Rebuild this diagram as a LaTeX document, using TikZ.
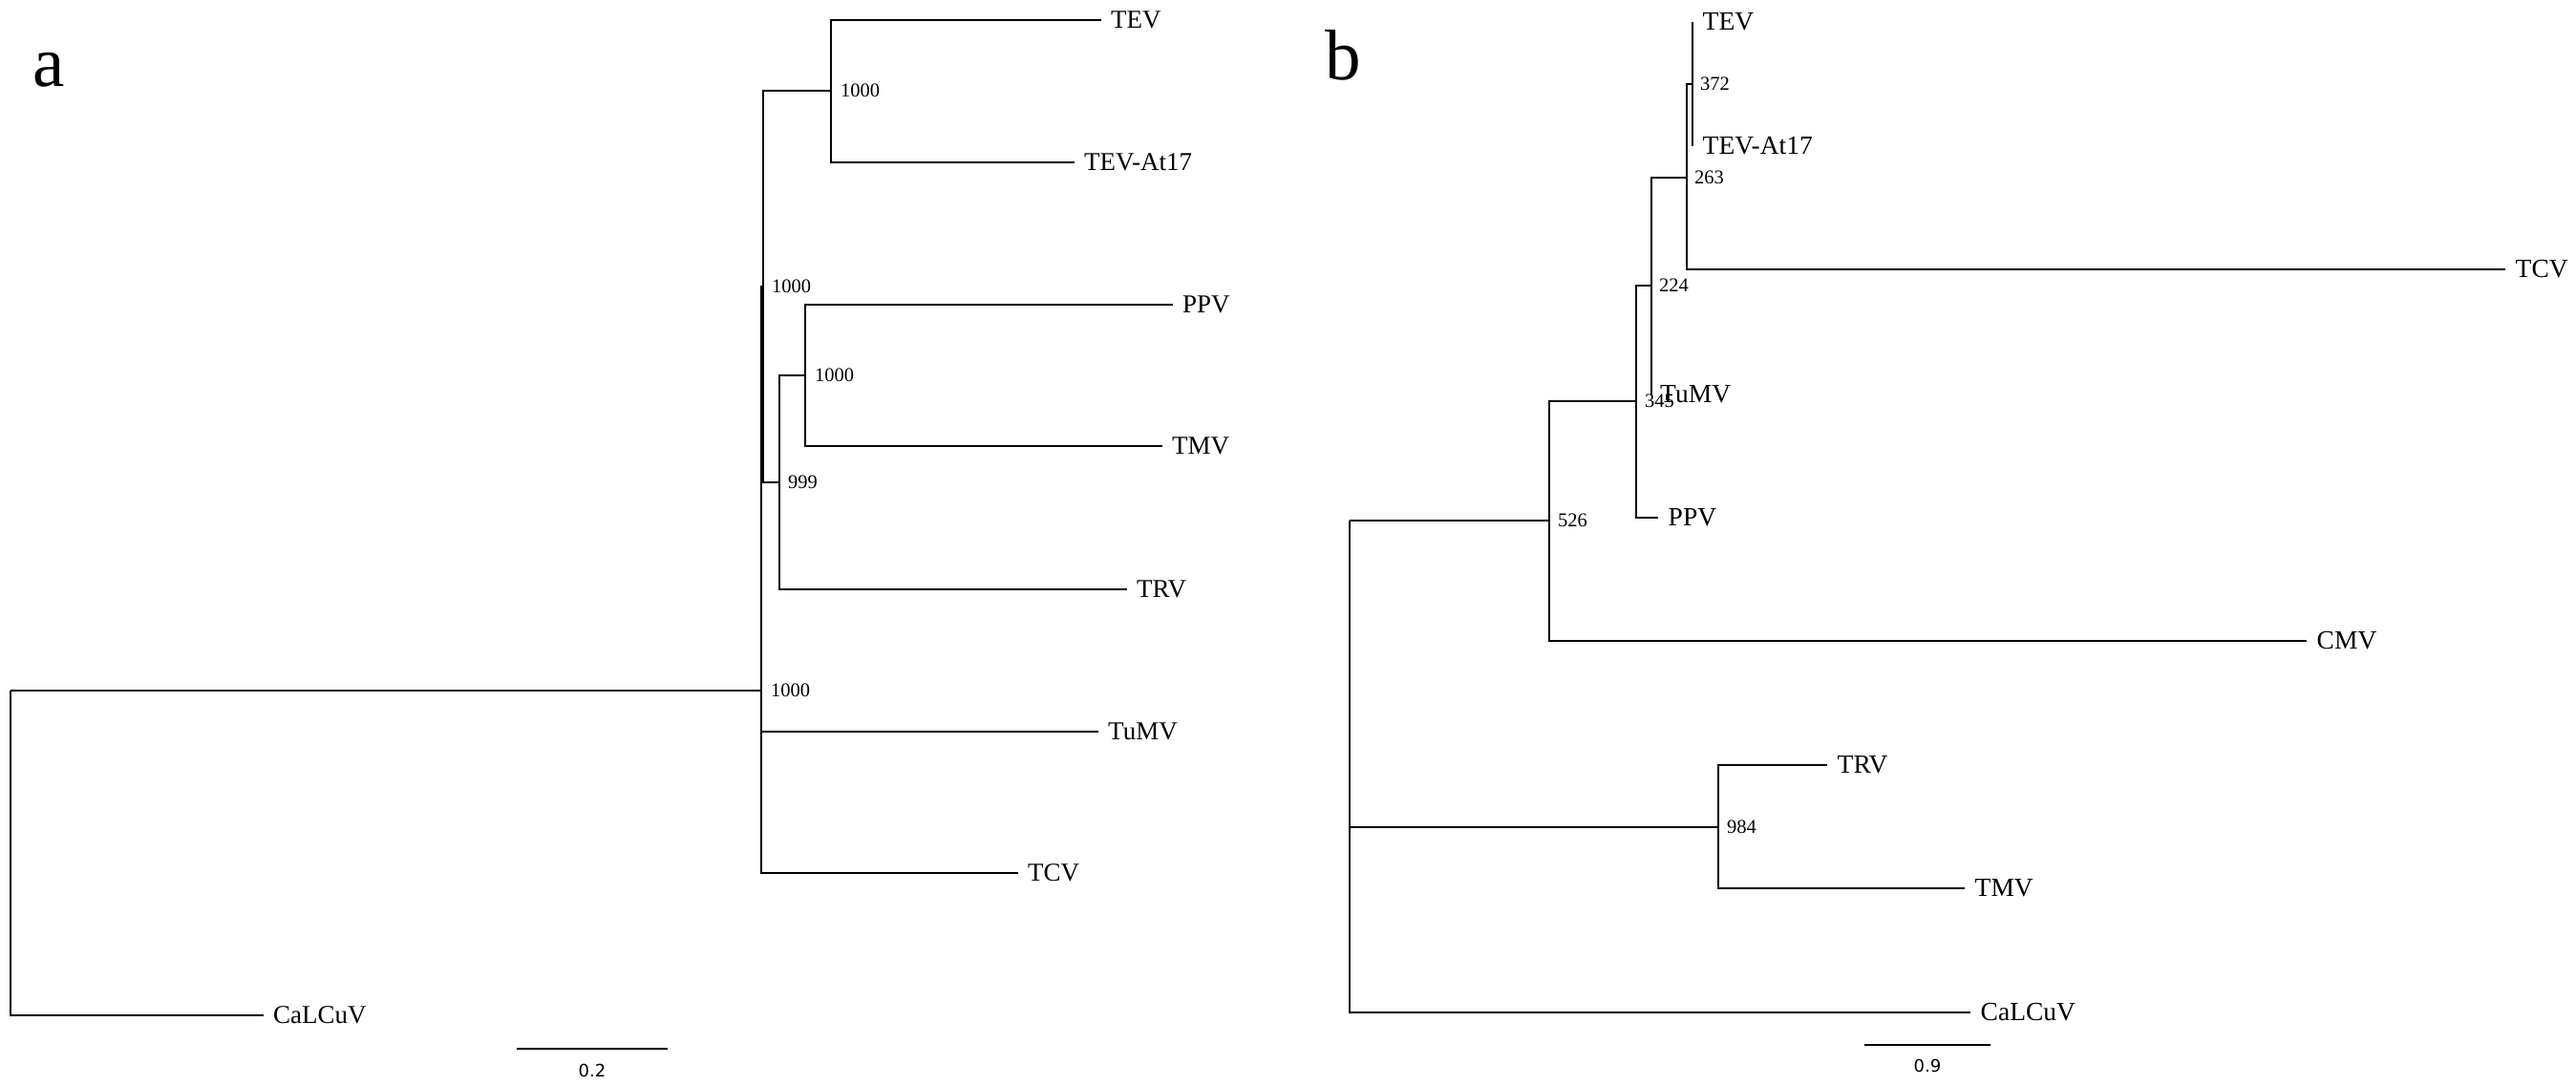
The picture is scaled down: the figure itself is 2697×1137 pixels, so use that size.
\documentclass[tikz,border=0pt]{standalone}
\usepackage{fontspec}
\setmainfont{Liberation Serif}
\newfontfamily\scalefnt{DejaVu Sans}
\begin{document}
\begin{tikzpicture}[x=1pt,y=-1pt,
  br/.style={line width=1.7pt, line join=miter},
  leaf/.style={anchor=west, inner xsep=10pt, inner ysep=0pt, font=\fontsize{27}{30}\selectfont},
  leafb/.style={leaf, inner xsep=10.5pt, font=\fontsize{27.5}{30}\selectfont},
  boot/.style={anchor=west, inner sep=0pt, font=\fontsize{20.5}{22}\selectfont},
  scl/.style={inner sep=0pt, font=\scalefnt\fontsize{18}{20}\selectfont},
  panel/.style={anchor=base west, inner sep=0pt, font=\fontsize{75}{80}\selectfont}]
\useasboundingbox (0,0) rectangle (2697,1137);
\fill[white] (0,0) rectangle (2697,1137);

% ---------------- panel a ----------------
\node[panel] (la) at (34,91) {a};
\coordinate (aR) at (11,723);
\coordinate (aN1) at (797,723);
\coordinate (aN2) at (799,300);
\coordinate (aTEVc) at (870,95);
\coordinate (a999) at (816,505);
\coordinate (aPPVc) at (843,393);
\node[leaf] (aTEV) at (1153,21) {TEV};
\node[leaf] (aTEVAt) at (1125,170) {TEV-At17};
\node[leaf] (aPPV) at (1228,319) {PPV};
\node[leaf] (aTMV) at (1217,467) {TMV};
\node[leaf] (aTRV) at (1180,617) {TRV};
\node[leaf] (aTuMV) at (1150,766) {TuMV};
\node[leaf] (aTCV) at (1066,914) {TCV};
\node[leaf] (aCaL) at (276,1063) {CaLCuV};

\draw[br] (aR) -- (aN1);
\draw[br] (aR) |- (aCaL.west);
\draw[br] (aN1) |- (aN2);
\draw[br] (aN1) |- (aTuMV.west);
\draw[br] (aN1) |- (aTCV.west);
\draw[br] (aN2) |- (aTEVc);
\draw[br] (aN2) |- (a999);
\draw[br] (aTEVc) |- (aTEV.west);
\draw[br] (aTEVc) |- (aTEVAt.west);
\draw[br] (a999) |- (aPPVc);
\draw[br] (a999) |- (aTRV.west);
\draw[br] (aPPVc) |- (aPPV.west);
\draw[br] (aPPVc) |- (aTMV.west);

\node[boot] (baTEV) at ([xshift=10pt]aTEVc) {1000};
\node[boot] (baN2) at ([xshift=9pt]aN2) {1000};
\node[boot] (baPPV) at ([xshift=10pt]aPPVc) {1000};
\node[boot] (ba999) at ([xshift=9pt]a999) {999};
\node[boot] (baN1) at ([xshift=10pt]aN1) {1000};

\coordinate (asb1) at (541,1098);
\coordinate (asb2) at (699,1098);
\draw[br] (asb1) -- (asb2);
\node[scl] (asl) at (620,1121) {0.2};

% ---------------- panel b ----------------
\node[panel] (lb) at (1387,84) {b};
\coordinate (bR) at (1413,545);
\coordinate (b526) at (1622,545);
\coordinate (b345) at (1713,420);
\coordinate (b224) at (1729,299);
\coordinate (b263) at (1766,186);
\coordinate (b372) at (1772,88);
\coordinate (b984) at (1799,866);
\node[leafb] (bTEV) at (1772,23) {TEV};
\node[leafb] (bTEVAt) at (1772,153) {TEV-At17};
\node[leafb, inner xsep=9pt] (bTuMV) at (1729,413) {TuMV};
\node[leafb] (bTCV) at (2623,282) {TCV};
\node[leafb] (bPPV) at (1736,542) {PPV};
\node[leafb] (bCMV) at (2415,671) {CMV};
\node[leafb] (bTRV) at (1913,801) {TRV};
\node[leafb] (bTMV) at (2057,930) {TMV};
\node[leafb] (bCaL) at (2063,1060) {CaLCuV};

\draw[br] (bR) -- (b526);
\draw[br] (bR) |- (b984);
\draw[br] (bR) |- (bCaL.west);
\draw[br] (b526) |- (b345);
\draw[br] (b526) |- (bCMV.west);
\draw[br] (b345) |- (b224);
\draw[br] (b345) |- (bPPV.west);
\draw[br] (b224) |- (b263);
\draw[br] (b224) |- (bTuMV.west);
\draw[br] (b263) |- (b372);
\draw[br] (b263) |- (bTCV.west);
\draw[br] (b372) |- (bTEV.west);
\draw[br] (b372) |- (bTEVAt.west);
\draw[br] (b984) |- (bTRV.west);
\draw[br] (b984) |- (bTMV.west);

\node[boot] (bb372) at ([xshift=8pt]b372) {372};
\node[boot] (bb263) at ([xshift=8pt]b263) {263};
\node[boot] (bb224) at ([xshift=8pt]b224) {224};
\node[boot] (bb345) at ([xshift=9pt]b345) {345};
\node[boot] (bb526) at ([xshift=9pt]b526) {526};
\node[boot] (bb984) at ([xshift=9pt]b984) {984};

\coordinate (bsb1) at (1952,1094);
\coordinate (bsb2) at (2084,1094);
\draw[br] (bsb1) -- (bsb2);
\node[scl] (bsl) at (2018,1116) {0.9};
\end{tikzpicture}
\end{document}
